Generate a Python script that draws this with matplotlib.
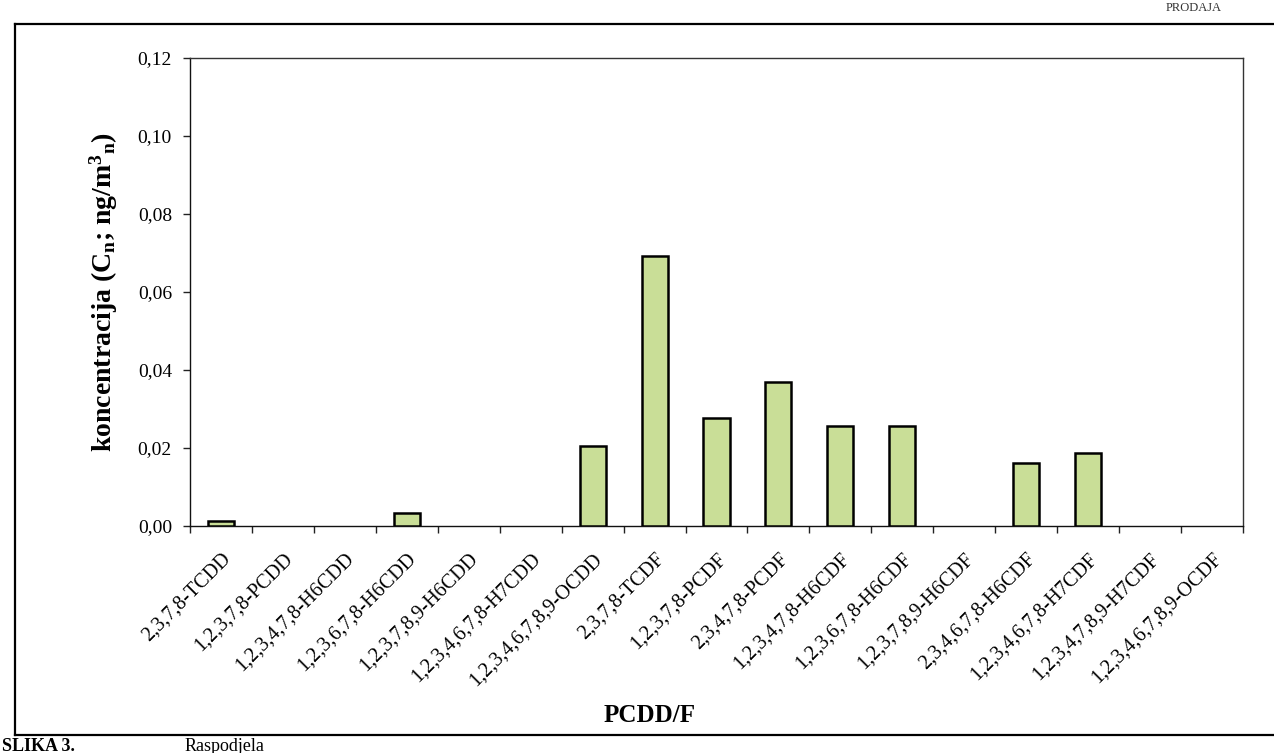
import matplotlib
matplotlib.use("Agg")
import matplotlib.pyplot as plt
from matplotlib.lines import Line2D
from matplotlib.ticker import FixedLocator, FuncFormatter

plt.rcParams['font.family'] = ['Liberation Serif', 'DejaVu Serif']
plt.rcParams['mathtext.fontset'] = 'custom'
plt.rcParams['mathtext.rm'] = 'Liberation Serif:bold'
plt.rcParams['mathtext.it'] = 'Liberation Serif:bold'
plt.rcParams['mathtext.bf'] = 'Liberation Serif:bold'

categories = [
    "2,3,7,8-TCDD", "1,2,3,7,8-PCDD", "1,2,3,4,7,8-H6CDD", "1,2,3,6,7,8-H6CDD",
    "1,2,3,7,8,9-H6CDD", "1,2,3,4,6,7,8-H7CDD", "1,2,3,4,6,7,8,9-OCDD",
    "2,3,7,8-TCDF", "1,2,3,7,8-PCDF", "2,3,4,7,8-PCDF", "1,2,3,4,7,8-H6CDF",
    "1,2,3,6,7,8-H6CDF", "1,2,3,7,8,9-H6CDF", "2,3,4,6,7,8-H6CDF",
    "1,2,3,4,6,7,8-H7CDF", "1,2,3,4,7,8,9-H7CDF", "1,2,3,4,6,7,8,9-OCDF",
]
values = [0.0012, 0.0, 0.0, 0.0034, 0.0, 0.0, 0.0205,
          0.0692, 0.0278, 0.0370, 0.0257, 0.0256, 0.0, 0.0162,
          0.0186, 0.0, 0.0]
y_ticks = [0.00, 0.02, 0.04, 0.06, 0.08, 0.10, 0.12]
y_label = "koncentracija (C$_{n}$; ng/m$^{3}$$_{n}$)"
x_label = "PCDD/F"

W, H = 1274, 753
fig = plt.figure(figsize=(W / 100, H / 100), dpi=100)
fig.patch.set_facecolor('white')

def fx(px):
    return px / W

def fy(py):
    return 1 - py / H

# outer page frame
fig.add_artist(Line2D([fx(15), fx(15)], [fy(24), fy(735)], color='black', lw=1.6))
fig.add_artist(Line2D([fx(15), fx(1274)], [fy(24), fy(24)], color='black', lw=1.6))
fig.add_artist(Line2D([fx(15), fx(1274)], [fy(735), fy(735)], color='black', lw=1.6))

# page header
fig.text(fx(1222), fy(11), "PRODAJA", ha='right', va='baseline', fontsize=9, color='#333333')
# caption below the frame
fig.text(fx(2), fy(751), "SLIKA 3.", ha='left', va='baseline', fontsize=13, fontweight='bold')
fig.text(fx(185), fy(751), "Raspodjela", ha='left', va='baseline', fontsize=13)

left, right, top, bottom = 190, 1243, 58, 526
ax = fig.add_axes([fx(left), fy(bottom), fx(right - left), (bottom - top) / H])
ax.set_facecolor('white')

x = list(range(len(categories)))
edge_widths = [1.8 if v > 0 else 0 for v in values]
ax.bar(x, values, width=0.42, color='#c9de97', edgecolor='black', linewidth=edge_widths, zorder=3)

ax.set_xlim(-0.5, len(categories) - 0.5)
ax.set_ylim(0, 0.12)
ax.yaxis.set_major_locator(FixedLocator(y_ticks))
ax.yaxis.set_major_formatter(FuncFormatter(lambda v, p: f"{v:.2f}".replace('.', ',')))

ax.set_xticks(x)
ax.set_xticklabels(categories, rotation=45, ha='right', va='top', rotation_mode='anchor', fontsize=14.5)
ax.tick_params(axis='x', which='major', length=0, pad=17)
ax.set_xticks([i + 0.5 for i in range(-1, len(categories))], minor=True)
ax.tick_params(axis='x', which='minor', length=5, width=1, direction='out', color='#222222')
ax.tick_params(axis='y', which='major', length=5, width=1, direction='out', pad=8, labelsize=14, color='#222222')

for s in ax.spines.values():
    s.set_linewidth(1.0)
    s.set_color('#333333')
ax.spines['left'].set_color('#111111')
ax.spines['bottom'].set_color('#111111')

fig.text(fx(104), fy(292), y_label, rotation=90, ha='center', va='center', fontsize=20, fontweight='bold')
fig.text(fx(650), fy(716), x_label, ha='center', va='center', fontsize=18, fontweight='bold')

fig.savefig("out.png", dpi=100)
